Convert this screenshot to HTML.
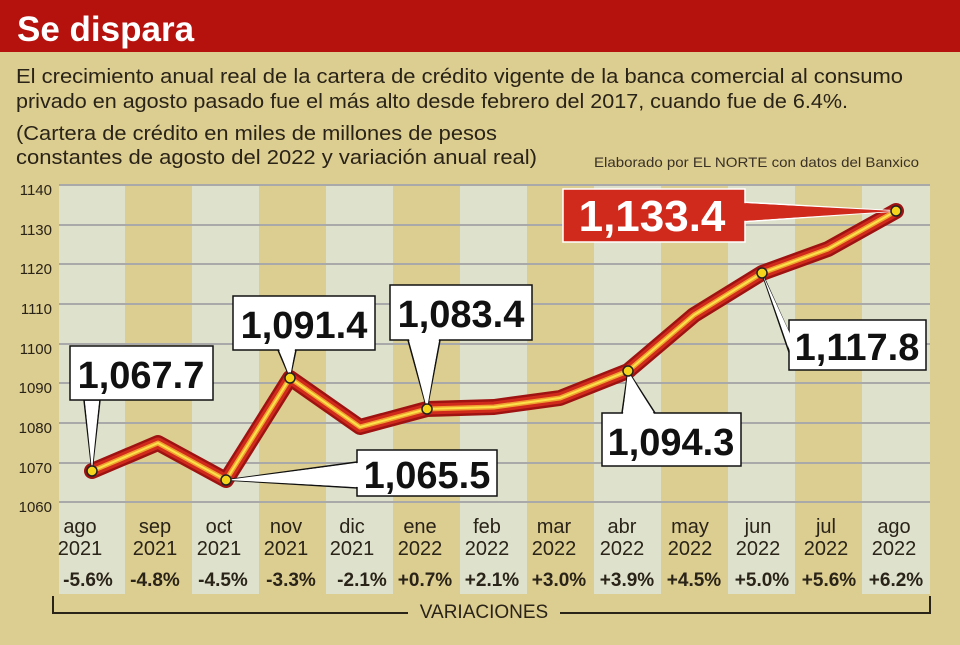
<!DOCTYPE html>
<html><head><meta charset="utf-8"><style>
body{margin:0;width:960px;height:640px;overflow:hidden;background:#dccd90;font-family:"Liberation Sans",sans-serif}
</style></head><body>
<svg width="960" height="640" xmlns="http://www.w3.org/2000/svg" font-family="Liberation Sans, sans-serif">
<rect width="960" height="640" fill="#dccd90"/>
<rect width="960" height="52" fill="#b5110d"/>
<text x="17" y="41" font-size="35" font-weight="bold" fill="#fff">Se dispara</text>
<text x="16" y="83" font-size="20.5" fill="#2a2318" textLength="887" lengthAdjust="spacingAndGlyphs">El crecimiento anual real de la cartera de crédito vigente de la banca comercial al consumo</text>
<text x="16" y="108" font-size="20.5" fill="#2a2318" textLength="832" lengthAdjust="spacingAndGlyphs">privado en agosto pasado fue el más alto desde febrero del 2017, cuando fue de 6.4%.</text>
<text x="16" y="140" font-size="20.5" fill="#2a2318" textLength="481" lengthAdjust="spacingAndGlyphs">(Cartera de crédito en miles de millones de pesos</text>
<text x="16" y="164" font-size="20.5" fill="#2a2318" textLength="521" lengthAdjust="spacingAndGlyphs">constantes de agosto del 2022 y variación anual real)</text>
<text x="594" y="167" font-size="14" fill="#3a3226" textLength="325" lengthAdjust="spacingAndGlyphs">Elaborado por EL NORTE con datos del Banxico</text>
<g fill="#dee2cc">
<rect x="59" y="184" width="66" height="410"/><rect x="192" y="184" width="67" height="410"/><rect x="326" y="184" width="67" height="410"/><rect x="460" y="184" width="67" height="410"/><rect x="594" y="184" width="67" height="410"/><rect x="728" y="184" width="67" height="410"/><rect x="862" y="184" width="68" height="410"/>
</g>
<g stroke="#a9a9a9" stroke-width="2">
<line x1="59" x2="930" y1="185" y2="185"/><line x1="59" x2="930" y1="225" y2="225"/><line x1="59" x2="930" y1="264" y2="264"/><line x1="59" x2="930" y1="304" y2="304"/><line x1="59" x2="930" y1="344" y2="344"/><line x1="59" x2="930" y1="383" y2="383"/><line x1="59" x2="930" y1="423" y2="423"/><line x1="59" x2="930" y1="463" y2="463"/><line x1="59" x2="930" y1="502" y2="502"/>
</g>
<g font-size="15" fill="#2a2318" text-anchor="end">
<text x="52" y="195">1140</text><text x="52" y="235">1130</text><text x="52" y="274">1120</text><text x="52" y="314">1110</text><text x="52" y="354">1100</text><text x="52" y="393">1090</text><text x="52" y="433">1080</text><text x="52" y="473">1070</text><text x="52" y="512">1060</text>
</g>
<g fill="none" stroke-linejoin="round" stroke-linecap="round">
<path d="M92,471 L158,443 L226,480 L290,378 L360,427 L427,409 L494,407 L560,398 L628,371 L694,315 L762,273 L828,249 L896,211" stroke="#9e1212" stroke-width="16"/>
<path d="M92,471 L158,443 L226,480 L290,378 L360,427 L427,409 L494,407 L560,398 L628,371 L694,315 L762,273 L828,249 L896,211" stroke="#cf2a1c" stroke-width="11"/>
<path d="M92,471 L158,443 L226,480 L290,378 L360,427 L427,409 L494,407 L560,398 L628,371 L694,315 L762,273 L828,249 L896,211" stroke="#f0a030" stroke-width="5"/>
<path d="M92,471 L158,443 L226,480 L290,378 L360,427 L427,409 L494,407 L560,398 L628,371 L694,315 L762,273 L828,249 L896,211" stroke="#fbe24a" stroke-width="2"/>
</g>
<g fill="#fff" stroke="#111" stroke-width="1.5">
<path d="M92,471 L84,400 L100,400Z"/>
<path d="M290,378 L278,350 L296,350Z"/>
<path d="M427,409 L408,340 L440,340Z"/>
<path d="M226,480 L357,462 L357,488Z"/>
<path d="M628,371 L622,413 L655,413Z"/>
<path d="M762,273 L790,335 L790,355Z"/>
<rect x="70" y="346" width="143" height="54"/>
<rect x="233" y="296" width="142" height="54"/>
<rect x="390" y="285" width="142" height="55"/>
<rect x="357" y="450" width="140" height="46"/>
<rect x="602" y="413" width="139" height="53"/>
<rect x="789" y="320" width="137" height="50"/>
</g>
<g stroke="none" fill="#fff">
<path d="M92,471 L85,401 L99,401Z"/><path d="M290,378 L279,349 L295,349Z"/><path d="M427,409 L409,339 L439,339Z"/><path d="M226,480 L358,463 L358,487Z"/><path d="M628,371 L623,414 L654,414Z"/><path d="M762,273 L791,336 L791,354Z"/>
</g>
<path d="M896,211 L740,202 L740,222Z" fill="#cf2a1c" stroke="#fff" stroke-width="1.5"/>
<rect x="563" y="189" width="182" height="53" fill="#cf2a1c" stroke="#fff" stroke-width="1.5"/>
<path d="M896,211 L741,203 L741,221Z" fill="#cf2a1c"/>
<g font-size="38" font-weight="bold" fill="#111" text-anchor="middle">
<text x="141" y="388">1,067.7</text>
<text x="304" y="338">1,091.4</text>
<text x="461" y="327">1,083.4</text>
<text x="427" y="488">1,065.5</text>
<text x="671" y="455">1,094.3</text>
<text x="857" y="360">1,117.8</text>
<text x="652" y="231" font-size="44" fill="#fff">1,133.4</text>
</g>
<g fill="#f5d51c" stroke="#222" stroke-width="1.5">
<circle cx="92" cy="471" r="5"/><circle cx="226" cy="480" r="5"/><circle cx="290" cy="378" r="5"/><circle cx="427" cy="409" r="5"/><circle cx="628" cy="371" r="5"/><circle cx="762" cy="273" r="5"/><circle cx="896" cy="211" r="5"/>
</g>
<g font-size="20" fill="#2a2318" text-anchor="middle">
<text x="80" y="533">ago</text><text x="80" y="555">2021</text>
<text x="155" y="533">sep</text><text x="155" y="555">2021</text>
<text x="219" y="533">oct</text><text x="219" y="555">2021</text>
<text x="286" y="533">nov</text><text x="286" y="555">2021</text>
<text x="352" y="533">dic</text><text x="352" y="555">2021</text>
<text x="420" y="533">ene</text><text x="420" y="555">2022</text>
<text x="487" y="533">feb</text><text x="487" y="555">2022</text>
<text x="554" y="533">mar</text><text x="554" y="555">2022</text>
<text x="622" y="533">abr</text><text x="622" y="555">2022</text>
<text x="690" y="533">may</text><text x="690" y="555">2022</text>
<text x="758" y="533">jun</text><text x="758" y="555">2022</text>
<text x="826" y="533">jul</text><text x="826" y="555">2022</text>
<text x="894" y="533">ago</text><text x="894" y="555">2022</text>
</g>
<g font-size="19" font-weight="bold" fill="#2a2318" text-anchor="middle">
<text x="88" y="586">-5.6%</text><text x="155" y="586">-4.8%</text><text x="223" y="586">-4.5%</text><text x="291" y="586">-3.3%</text><text x="362" y="586">-2.1%</text><text x="425" y="586">+0.7%</text><text x="492" y="586">+2.1%</text><text x="559" y="586">+3.0%</text><text x="627" y="586">+3.9%</text><text x="694" y="586">+4.5%</text><text x="762" y="586">+5.0%</text><text x="829" y="586">+5.6%</text><text x="896" y="586">+6.2%</text>
</g>
<path d="M53,596 L53,613 L408,613 M560,613 L930,613 L930,596" fill="none" stroke="#2a2318" stroke-width="2"/>
<text x="484" y="618" font-size="19" fill="#2a2318" text-anchor="middle">VARIACIONES</text>
</svg>
</body></html>
